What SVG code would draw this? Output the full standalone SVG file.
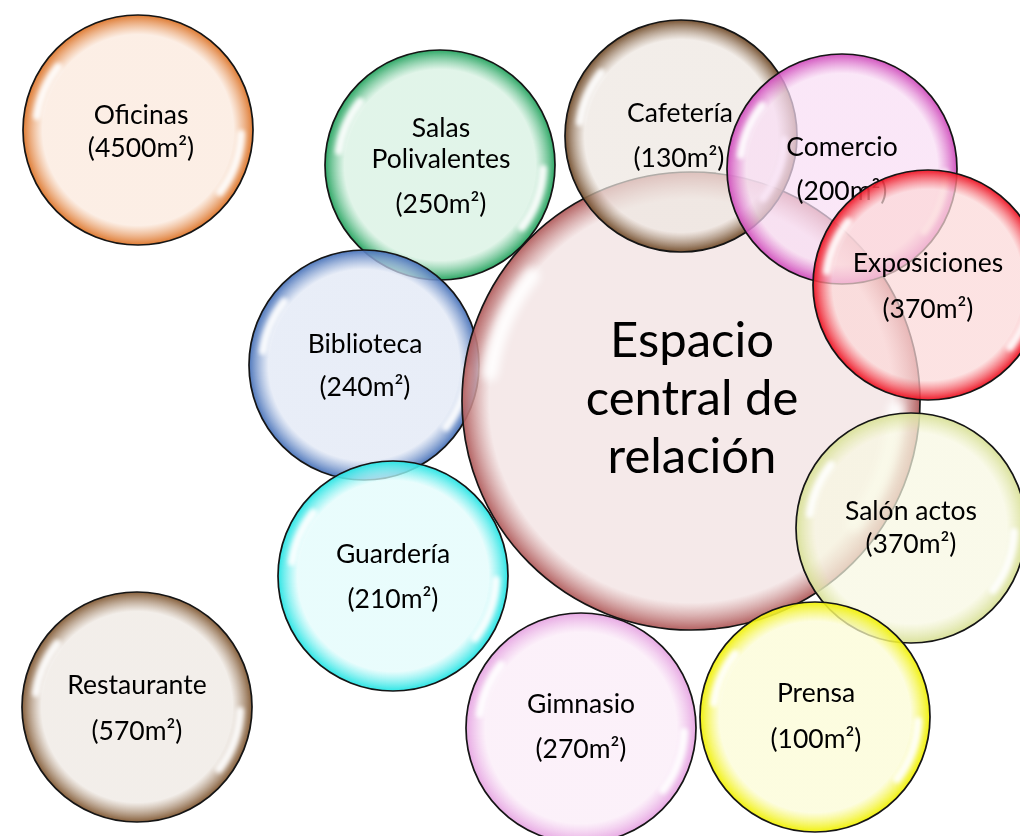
<svg xmlns="http://www.w3.org/2000/svg" width="1020" height="836" viewBox="0 0 1020 836">
<defs>
<style>
.b{stroke:#151515;stroke-width:1.7}
text{font-family:Lato,"Open Sans","Liberation Sans",sans-serif;fill:#000;text-anchor:middle;font-size:26.5px}
.big{font-size:49px}
.hl{fill:none;stroke:#fff;stroke-width:8;stroke-linecap:round;opacity:.9}
stop{stop-opacity:.72}
stop.r{stop-opacity:.95}
</style>
<filter id="blur" x="-50%" y="-50%" width="200%" height="200%"><feGaussianBlur stdDeviation="2.2"/></filter>
<g id="hl" filter="url(#blur)"><path class="hl" d="M-80,-63 A102,102 0 0 0 -101,-14"/><path class="hl" d="M103,4 A103,103 0 0 1 82,62"/></g>
<radialGradient id="gOf"><stop offset="0" stop-color="#fbe8db"/><stop offset=".83" stop-color="#fbe8db"/><stop class="r" offset="1" stop-color="#dd7428"/></radialGradient>
<radialGradient id="gRe"><stop offset="0" stop-color="#eee8e2"/><stop offset=".83" stop-color="#eee8e2"/><stop class="r" offset="1" stop-color="#7f5630"/></radialGradient>
<radialGradient id="gSa"><stop offset="0" stop-color="#d6f1e1"/><stop offset=".83" stop-color="#d6f1e1"/><stop class="r" offset="1" stop-color="#23a35e"/></radialGradient>
<radialGradient id="gBi"><stop offset="0" stop-color="#e0e7f5"/><stop offset=".83" stop-color="#e0e7f5"/><stop class="r" offset="1" stop-color="#4570b8"/></radialGradient>
<radialGradient id="gGu"><stop offset="0" stop-color="#e1fcfc"/><stop offset=".83" stop-color="#e1fcfc"/><stop class="r" offset="1" stop-color="#22e4e4"/></radialGradient>
<radialGradient id="gGi"><stop offset="0" stop-color="#fbecf8"/><stop offset=".83" stop-color="#fbecf8"/><stop class="r" offset="1" stop-color="#e6a4e2"/></radialGradient>
<radialGradient id="gCe"><stop offset="0" stop-color="#f2e1e1"/><stop offset=".88" stop-color="#f2e1e1"/><stop class="r" offset="1" stop-color="#b05a5a"/></radialGradient>
<radialGradient id="gCa"><stop offset="0" stop-color="#eee7e1"/><stop offset=".83" stop-color="#eee7e1"/><stop class="r" offset="1" stop-color="#704a28"/></radialGradient>
<radialGradient id="gCo"><stop offset="0" stop-color="#f9def5"/><stop offset=".83" stop-color="#f9def5"/><stop class="r" offset="1" stop-color="#d04cbc"/></radialGradient>
<radialGradient id="gEx"><stop offset="0" stop-color="#fcd8d8"/><stop offset=".83" stop-color="#fcd8d8"/><stop class="r" offset="1" stop-color="#ee1020"/></radialGradient>
<radialGradient id="gSl"><stop offset="0" stop-color="#f8f8e2"/><stop offset=".83" stop-color="#f8f8e2"/><stop class="r" offset="1" stop-color="#d8e096"/></radialGradient>
<radialGradient id="gPr"><stop offset="0" stop-color="#fcfcd4"/><stop offset=".83" stop-color="#fcfcd4"/><stop class="r" offset="1" stop-color="#f0f000"/></radialGradient>
</defs>
<rect width="1020" height="836" fill="#fff"/>
<g id="connectors"/>
<g id="oficinas"><circle class="b" cx="138" cy="130" r="115" fill="url(#gOf)"/><use href="#hl" transform="translate(138,130)"/><text x="141" y="124">Oficinas</text><text x="141" y="157">(4500m²)</text></g>
<g id="restaurante"><circle class="b" cx="137" cy="707" r="115" fill="url(#gRe)"/><use href="#hl" transform="translate(137,707)"/><text x="137" y="694">Restaurante</text><text x="137" y="740">(570m²)</text></g>
<g id="salas"><circle class="b" cx="440" cy="165" r="115" fill="url(#gSa)"/><use href="#hl" transform="translate(440,165)"/><text x="441" y="137">Salas</text><text x="441" y="168">Polivalentes</text><text x="441" y="213">(250m²)</text></g>
<g id="biblioteca"><circle class="b" cx="364" cy="365" r="115" fill="url(#gBi)"/><use href="#hl" transform="translate(364,365)"/><text x="365" y="353">Biblioteca</text><text x="365" y="396">(240m²)</text></g>
<g id="guarderia"><circle class="b" cx="393" cy="576" r="115" fill="url(#gGu)"/><use href="#hl" transform="translate(393,576)"/><text x="393" y="563">Guardería</text><text x="393" y="608">(210m²)</text></g>
<g id="gimnasio"><circle class="b" cx="581" cy="728" r="115" fill="url(#gGi)"/><use href="#hl" transform="translate(581,728)"/><text x="581" y="713">Gimnasio</text><text x="581" y="758">(270m²)</text></g>
<g id="espacio-central"><circle class="b" cx="691" cy="401" r="229" fill="url(#gCe)"/><use href="#hl" transform="translate(691,401) scale(1.99)"/><text class="big" x="692" y="357">Espacio</text><text class="big" x="692" y="415">central de</text><text class="big" x="692" y="473">relación</text></g>
<g id="cafeteria"><circle class="b" cx="681" cy="136" r="116" fill="url(#gCa)"/><use href="#hl" transform="translate(681,136)"/><text x="680" y="122">Cafetería</text><text x="679" y="167">(130m²)</text></g>
<g id="comercio"><circle class="b" cx="842" cy="169" r="115" fill="url(#gCo)"/><use href="#hl" transform="translate(842,169)"/><text x="842" y="156">Comercio</text><text x="842" y="200">(200m²)</text></g>
<g id="exposiciones"><circle class="b" cx="928" cy="285" r="115" fill="url(#gEx)"/><use href="#hl" transform="translate(928,285)"/><text x="928" y="272">Exposiciones</text><text x="928" y="318">(370m²)</text></g>
<g id="salon-actos"><circle class="b" cx="911" cy="528" r="115" fill="url(#gSl)"/><use href="#hl" transform="translate(911,528)"/><text x="911" y="520">Salón actos</text><text x="911" y="553">(370m²)</text></g>
<g id="prensa"><circle class="b" cx="815" cy="717" r="115" fill="url(#gPr)"/><use href="#hl" transform="translate(815,717)"/><text x="816" y="702">Prensa</text><text x="816" y="748">(100m²)</text></g>
</svg>
